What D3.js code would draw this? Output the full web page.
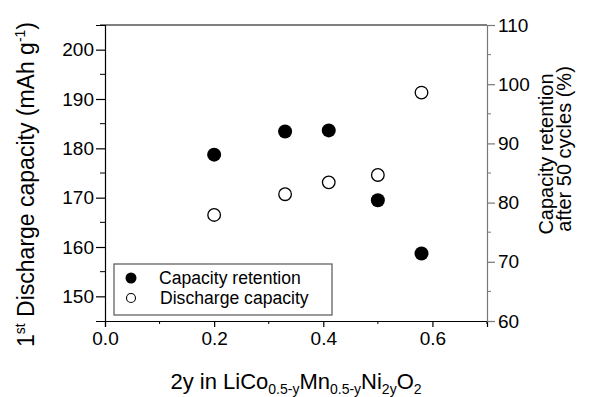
<!DOCTYPE html>
<html>
<head>
<meta charset="utf-8">
<script src="https://d3js.org/d3.v7.min.js"></script>
<style>
  body { margin: 0; background: #fff; }
  svg text { font-family: "Liberation Sans", Arial, sans-serif; fill: #000; }
  .tick text { font-size: 19px; }
</style>
</head>
<body>
<div id="chart"></div>
<script>
// composition 2y and the two measured series
var xVals = [0.2, 0.33, 0.41, 0.5, 0.58];
var retention = [88.1, 92.0, 92.2, 80.4, 71.4];      // % after 50 cycles (right axis)
var discharge = [166.5, 170.7, 173.1, 174.6, 191.3]; // mAh/g (left axis)
var xTicks = [0.0, 0.2, 0.4, 0.6];
var leftTicks = [150, 160, 170, 180, 190, 200];
var rightTicks = [60, 70, 80, 90, 100, 110];

var W = 589, H = 397;
var L = 105, R = 487, T = 25, B = 321;

var svg = d3.select("#chart").append("svg")
    .attr("width", W).attr("height", H);

var x = d3.scaleLinear().domain([0, 0.7]).range([L, R]);
var yL = d3.scaleLinear().domain([145, 205]).range([B, T]);
var yR = d3.scaleLinear().domain([60, 110]).range([B, T]);

// top frame
svg.append("line").attr("x1", L).attr("x2", R).attr("y1", T).attr("y2", T)
    .attr("stroke", "#000").attr("stroke-width", 1.2);

// minor ticks
function minor(g, ticks, len, horiz, color) {
  g.selectAll(null).data(ticks).enter().append("line")
    .attr("stroke", color).attr("stroke-width", 1)
    .each(function(d) {
      var s = d3.select(this);
      if (horiz) s.attr("x1", x(d)).attr("x2", x(d)).attr("y1", B).attr("y2", B + len);
      else s.attr("y1", len.scale(d)).attr("y2", len.scale(d)).attr("x1", len.x0).attr("x2", len.x1);
    });
}

// bottom axis
var gx = svg.append("g").attr("transform", "translate(0," + B + ")")
    .call(d3.axisBottom(x).tickValues(xTicks).tickFormat(d3.format(".1f")).tickSize(6).tickPadding(5));
minor(svg.append("g"), [0.1, 0.3, 0.5, 0.7], 3, true, "#000");

// left axis
var gl = svg.append("g").attr("transform", "translate(" + L + ",0)")
    .call(d3.axisLeft(yL).tickValues(leftTicks).tickSize(9).tickPadding(2));
minor(svg.append("g"), [155, 165, 175, 185, 195, 205], {scale: yL, x0: L - 5, x1: L}, false, "#000");

// right axis
var gr = svg.append("g").attr("transform", "translate(" + R + ",0)")
    .call(d3.axisRight(yR).tickValues(rightTicks).tickSize(8).tickPadding(3));
minor(svg.append("g"), [65, 75, 85, 95, 105], {scale: yR, x0: R, x1: R + 4}, false, "#777");

[gx, gl].forEach(function(g) {
  g.select(".domain").attr("stroke", "#000").attr("stroke-width", 1.2);
  g.selectAll(".tick line").attr("stroke", "#000").attr("stroke-width", 1.2);
});
gr.select(".domain").attr("stroke", "#777").attr("stroke-width", 1.2);
gr.selectAll(".tick line").attr("stroke", "#777").attr("stroke-width", 1.2);
svg.selectAll(".tick text").attr("fill", "#000");

// points
svg.append("g").selectAll("circle").data(xVals).enter().append("circle")
    .attr("cx", function(d) { return x(d); })
    .attr("cy", function(d, i) { return yR(retention[i]); })
    .attr("r", 7).attr("fill", "#000");
svg.append("g").selectAll("circle").data(xVals).enter().append("circle")
    .attr("cx", function(d) { return x(d); })
    .attr("cy", function(d, i) { return yL(discharge[i]); })
    .attr("r", 6.3).attr("fill", "#fff").attr("stroke", "#000").attr("stroke-width", 1.3);

// legend
var lg = svg.append("g");
lg.append("rect").attr("x", 114).attr("y", 264).attr("width", 218).attr("height", 51)
    .attr("fill", "#fff").attr("stroke", "#555").attr("stroke-width", 1.2);
lg.append("circle").attr("cx", 131).attr("cy", 278).attr("r", 5.5).attr("fill", "#000");
lg.append("circle").attr("cx", 131).attr("cy", 298).attr("r", 4.5).attr("fill", "#fff")
    .attr("stroke", "#000").attr("stroke-width", 1.1);
lg.append("text").attr("x", 159).attr("y", 284).style("font-size", "17.6px").text("Capacity retention");
lg.append("text").attr("x", 160).attr("y", 304).style("font-size", "17.6px").text("Discharge capacity");

// x title
var xt = svg.append("text").attr("x", 296).attr("y", 389).attr("text-anchor", "middle")
    .style("font-size", "22px");
xt.append("tspan").text("2y in LiCo");
xt.append("tspan").attr("dy", 5).style("font-size", "14px").text("0.5-y");
xt.append("tspan").attr("dy", -5).text("Mn");
xt.append("tspan").attr("dy", 5).style("font-size", "14px").text("0.5-y");
xt.append("tspan").attr("dy", -5).text("Ni");
xt.append("tspan").attr("dy", 5).style("font-size", "14px").text("2y");
xt.append("tspan").attr("dy", -5).text("O");
xt.append("tspan").attr("dy", 5).style("font-size", "14px").text("2");

// left title (reads bottom to top, starts near the bottom)
var lt = svg.append("text").attr("transform", "translate(34,347) rotate(-90)")
    .attr("text-anchor", "start").style("font-size", "23px");
lt.append("tspan").text("1");
lt.append("tspan").attr("dy", -9).style("font-size", "14px").text("st");
lt.append("tspan").attr("dy", 9).text(" Discharge capacity (mAh g");
lt.append("tspan").attr("dy", -9).style("font-size", "14px").text("-1");
lt.append("tspan").attr("dy", 9).text(")");

// right title
svg.append("text").attr("transform", "translate(553,154) rotate(-90)")
    .attr("text-anchor", "middle").style("font-size", "20px").text("Capacity retention");
svg.append("text").attr("transform", "translate(571,149) rotate(-90)")
    .attr("text-anchor", "middle").style("font-size", "20px").text("after 50 cycles (%)");
</script>
</body>
</html>
